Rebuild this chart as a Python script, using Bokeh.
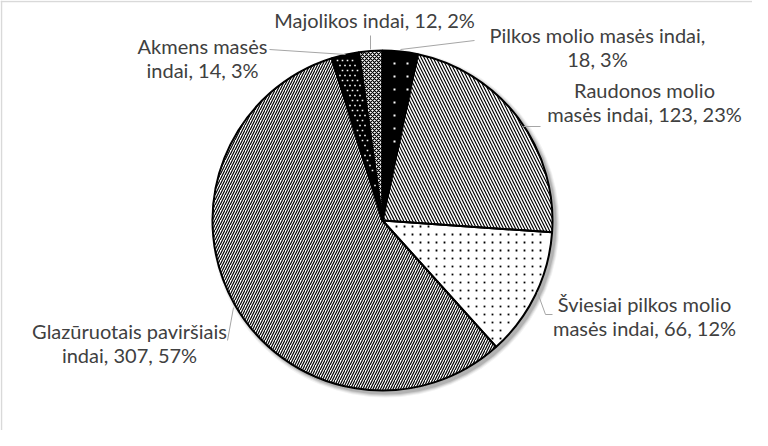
import numpy as np
import pandas as pd
from bokeh.plotting import figure
from bokeh.models import ColumnDataSource, Range1d, Span
from bokeh.core.properties import value
from bokeh.embed import file_html
from bokeh.resources import INLINE

# ---- data ----
categories = ["Pilkos molio masės indai", "Raudonos molio masės indai",
              "Šviesiai pilkos molio masės indai", "Glazūruotais paviršiais indai",
              "Akmens masės indai", "Majolikos indai"]
values = [18, 123, 66, 307, 14, 12]
# words kept on the first label line
break_words = [4, 2, 3, 2, 2, 99]

# ---- styles ----
fill_colors = ["black", "white", "white", "white", "black", "white"]
hatch_patterns = ["blank", "left_diagonal_line", "blank", "right_diagonal_line",
                  "blank", "diagonal_cross"]
hatch_scales = [6, 6, 6, 5, 6, 4]
hatch_weights = [1.0, 1.15, 1.0, 1.2, 1.0, 1.2]
# dotted textures: (spacing, staggered, dot size, colour) or None
dot_styles = [(13, False, 2.0, "white"), None, (8, False, 1.8, "black"), None,
              (5, True, 1.6, "white"), None]

# layout (page pixel coordinates)
W, H = 752, 430
CX, CY, R = 390, 228, 170
label_x = [605, 652, 652, 137, 210, 382]
label_y = [54, 109, 323, 350, 65, 27]
LINE_H = 24
leaders = [
    ([408, 482], [57, 48]),
    ([531, 548], [134, 134]),
    ([545, 553, 560], [300, 322, 322]),
    ([241, 235], [315, 348]),
    ([353, 277], [62, 57]),
    ([378, 378], [57, 43]),
]

def py(y):
    return 446 - y

df = pd.DataFrame({"cat": categories, "val": values})
total = df["val"].sum()
frac = df["val"] / total
cum_end = frac.cumsum()
cum_start = cum_end - frac
df["start"] = np.pi / 2 - cum_start * 2 * np.pi
df["end"] = np.pi / 2 - cum_end * 2 * np.pi
df["pct"] = (frac * 100).round().astype(int)
df["fill"] = fill_colors
df["hatch"] = hatch_patterns
df["hscale"] = hatch_scales
df["hweight"] = hatch_weights
df["x"] = CX
df["y"] = py(CY)

p = figure(width=W, height=H, output_backend="svg", toolbar_location=None,
           x_range=Range1d(8, 8 + W), y_range=Range1d(446 - 8 - H, 446 - 8),
           min_border=0, outline_line_color=None)
p.axis.visible = False
p.grid.visible = False
p.background_fill_color = "white"
p.border_fill_color = "white"

# chart-area frame (top/left visible)
p.add_layout(Span(location=9, dimension="height", line_color="#d9d9d9", line_width=1.5))
p.add_layout(Span(location=py(9), dimension="width", line_color="#d9d9d9", line_width=1.5))

# soft shadow
for k, a in [(4, 0.05), (3, 0.07), (2, 0.09), (1, 0.12)]:
    p.circle(x=[CX + 3], y=[py(CY + 3)], radius=R + k, fill_color="black",
             fill_alpha=a, line_color=None)

src = ColumnDataSource(df)
p.wedge(x="x", y="y", radius=R, start_angle="start", end_angle="end",
        direction="clock", source=src, fill_color="fill",
        hatch_pattern="hatch", hatch_color="black", hatch_scale="hscale",
        hatch_weight="hweight", line_color=None)

# dotted fill textures, clipped to each slice
for i, st in enumerate(dot_styles):
    if st is None:
        continue
    sp, stag, sz, col = st
    a0 = cum_start.iloc[i] * 2 * np.pi
    a1 = cum_end.iloc[i] * 2 * np.pi
    xs, ys = [], []
    for rj, yy in enumerate(np.arange(CY - R, CY + R, sp)):
        off = (sp / 2) if (stag and rj % 2) else 0
        for xx in np.arange(CX - R + off, CX + R, sp):
            dx, dy = xx - CX, yy - CY
            r = np.hypot(dx, dy)
            if r > R - 3 or r < 2:
                continue
            th = np.arctan2(dx, -dy) % (2 * np.pi)
            if not (a0 < th < a1):
                continue
            d0 = r * np.sin(th - a0)
            d1 = r * np.sin(a1 - th)
            if min(d0, d1) < 2.5:
                continue
            xs.append(xx)
            ys.append(py(yy))
    p.rect(x=xs, y=ys, width=sz, height=sz, fill_color=col, line_color=None)

# slice outlines on top
p.wedge(x="x", y="y", radius=R, start_angle="start", end_angle="end",
        direction="clock", source=src, fill_color=None,
        line_color="black", line_width=2)

# leader lines
p.multi_line(xs=[l[0] for l in leaders], ys=[[py(v) for v in l[1]] for l in leaders],
             line_color="#a6a6a6", line_width=1)

# labels
tx, ty, tt = [], [], []
for i, row in df.iterrows():
    full = f"{row['cat']}, {row['val']}, {row['pct']}%"
    words = full.split(" ")
    lines = [" ".join(words[:break_words[i]])]
    if break_words[i] < len(words):
        lines.append(" ".join(words[break_words[i]:]))
    n = len(lines)
    for j, ln in enumerate(lines):
        tx.append(label_x[i])
        ty.append(py(label_y[i] + (j - (n - 1) / 2) * LINE_H))
        tt.append(ln)
p.text(x=tx, y=ty, text=tt, text_font=value("Lato"), text_font_size="20px",
       text_color="#404040", text_align="center", text_baseline="middle")

open("out.html", "w").write(file_html(p, INLINE))
